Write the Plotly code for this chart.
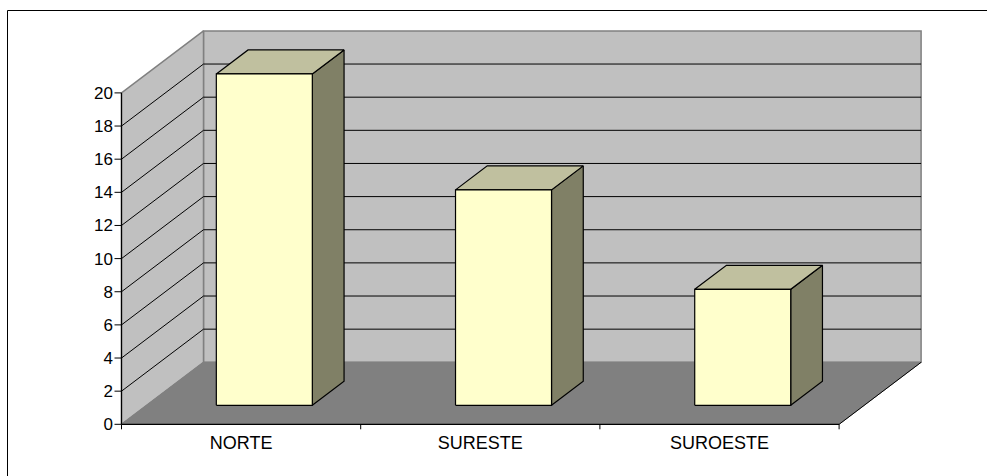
import plotly.graph_objects as go

# ---- data ----
categories = ["NORTE", "SURESTE", "SUROESTE"]
values = [20, 13, 7]
y_ticks = [0, 2, 4, 6, 8, 10, 12, 14, 16, 18, 20]

# ---- geometry (pixels) ----
W, H = 987, 476
X0, CW = 121.5, 239.2      # px of x=0, px per category
Y0, YU = 424.3, 16.57      # px of y=0, px per unit
DXP, DYP = 82.0, 62.0      # depth offset of the 3D box
PL, PR, PT, PB = 114, 925, 27, 430   # plot area edges

DX = DXP / CW
DY = DYP / YU
YMAX = y_ticks[-1]
N = len(categories)

fig = go.Figure()


def poly(xs, ys, fill, line, lw=1.0):
    fig.add_trace(go.Scatter(
        x=list(xs) + [xs[0]], y=list(ys) + [ys[0]], mode="lines",
        fill="toself", fillcolor=fill, line=dict(color=line, width=lw),
        hoverinfo="skip", showlegend=False))


def segs(pairs, color, lw=1.0):
    xs, ys = [], []
    for (x1, y1, x2, y2) in pairs:
        xs += [x1, x2, None]
        ys += [y1, y2, None]
    fig.add_trace(go.Scatter(
        x=xs, y=ys, mode="lines", line=dict(color=color, width=lw),
        hoverinfo="skip", showlegend=False))


# walls and floor
poly([DX, N + DX, N + DX, DX], [DY, DY, YMAX + DY, YMAX + DY], "#C0C0C0", "#808080", 1.5)
poly([0, DX, DX, 0], [0, DY, YMAX + DY, YMAX], "#C0C0C0", "#808080", 1.5)
poly([0, N, N + DX, DX], [0, 0, DY, DY], "#808080", "#808080", 1.0)
segs([(N, 0, N + DX, DY)], "#000000", 1.0)

# gridlines on side wall and back wall
grid = []
for v in y_ticks[1:-1]:
    grid.append((0, v, DX, v + DY))
    grid.append((DX, v + DY, N + DX, v + DY))
segs(grid, "#000000", 1.0)

# bars
bd = 24.0 / DYP
bdx, bdy = bd * DX, bd * DY
z0 = (1 - bd) / 2
zx, zy = z0 * DX, z0 * DY
bw = 96.0 / CW
for i, v in enumerate(values):
    cx = i + 0.492
    l = cx - bw / 2 + zx
    r = l + bw
    base = zy
    top = v + zy
    poly([r, r + bdx, r + bdx, r], [base, base + bdy, top + bdy, top], "#808066", "#000000", 1.2)
    poly([l, r, r + bdx, l + bdx], [top, top, top + bdy, top + bdy], "#C0C09F", "#000000", 1.2)
    poly([l, r, r, l], [base, base, top, top], "#FFFFCC", "#000000", 1.2)

# axis lines and tick marks
segs([(0, 0, 0, YMAX), (0, 0, N, 0)], "#000000", 1.2)
tk = [(-7.0 / CW, v, 0, v) for v in y_ticks]
tk += [(i, 0, i, -5.0 / YU) for i in range(N + 1)]
segs(tk, "#000000", 1.0)

xr = [(PL - X0) / CW, (PR - X0) / CW]
yr = [(Y0 - PB) / YU, (Y0 - PT) / YU]

fam = "Liberation Sans, Arial, sans-serif"
yfont = dict(family=fam, size=17, color="#000000")
xfont = dict(family=fam, size=18, color="#000000")

fig.update_layout(
    width=W, height=H,
    margin=dict(l=PL, r=W - PR, t=PT, b=H - PB, pad=0),
    paper_bgcolor="#FFFFFF", plot_bgcolor="rgba(0,0,0,0)",
    font=yfont,
    xaxis=dict(range=xr, showgrid=False, zeroline=False, showline=False,
               tickmode="array", tickvals=[i + 0.5 for i in range(N)],
               ticktext=categories, ticks="", tickfont=xfont, fixedrange=True),
    yaxis=dict(range=yr, showgrid=False, zeroline=False, showline=False,
               tickmode="array", tickvals=y_ticks,
               ticktext=[str(t) for t in y_ticks], ticks="", tickfont=yfont,
               fixedrange=True),
)

# outer frame (only top and left edges visible in the picture)
def px_x(p):
    return (p - PL) / (PR - PL)


def px_y(p):
    return (PB - p) / (PB - PT)


fig.add_shape(type="line", xref="paper", yref="paper",
              x0=px_x(7.5), y0=px_y(10.5), x1=px_x(W + 5), y1=px_y(10.5),
              line=dict(color="#000000", width=1))
fig.add_shape(type="line", xref="paper", yref="paper",
              x0=px_x(7.5), y0=px_y(10.5), x1=px_x(7.5), y1=px_y(H + 5),
              line=dict(color="#000000", width=1))

fig.write_html(
    "out.html",
    config={"displayModeBar": False},
    post_script="document.body.style.margin='0';document.documentElement.style.overflow='hidden';",
)
